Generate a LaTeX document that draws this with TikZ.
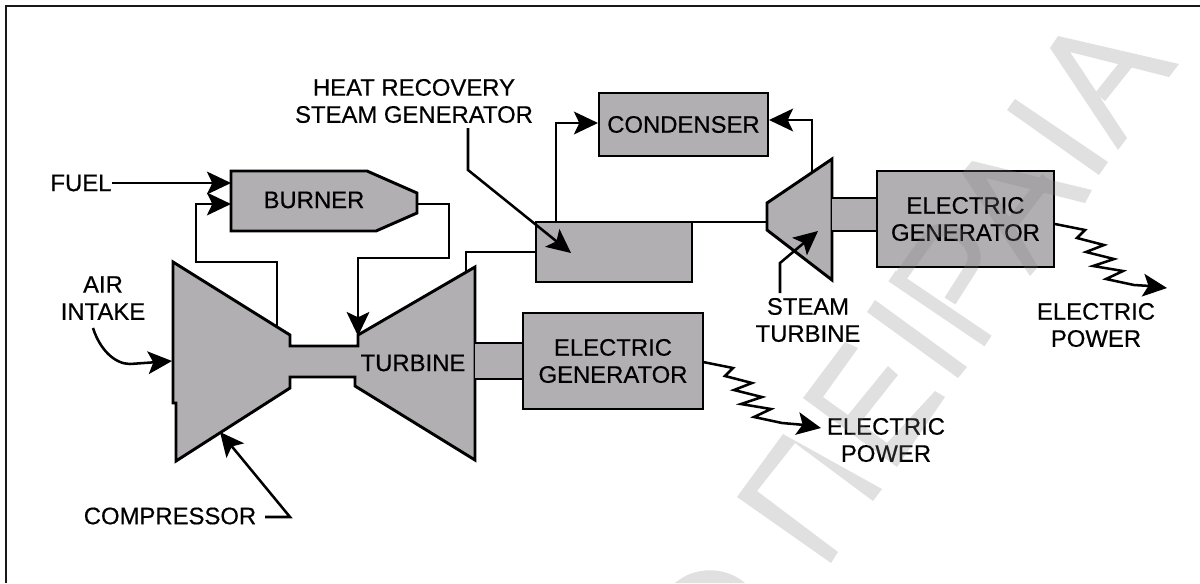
\documentclass[tikz,border=0pt]{standalone}
\usepackage{fontspec}
\setmainfont[RawFeature={embolden=0.5}]{Liberation Sans}
\usetikzlibrary{arrows.meta}
\definecolor{boxgray}{RGB}{177,175,178}
\tikzset{
  x=0.75pt,y=-0.75pt,
  ln/.style={line width=2.2pt,line join=miter},
  thin line/.style={line width=1.9pt},
  shapebox/.style={ln,draw=black,fill=boxgray},
  recbox/.style={shapebox,rectangle,inner sep=0pt,align=center,font=\fontsize{17.9}{20.3}\selectfont},
  lab/.style={inner sep=0pt,align=center,font=\fontsize{17.9}{20.3}\selectfont},
  tip/.style={-{Stealth[length=18pt,width=17pt,inset=4pt]}},
  mark stroke/.style={line width=9.6pt,draw=black!50},
}
\begin{document}
\begin{tikzpicture}
\useasboundingbox (0,0) rectangle (1200,583);
\fill[white] (0,0) rectangle (1200,583);
% frame
\coordinate (fa) at (6,583);
\coordinate (fb) at (6,6);
\coordinate (fc) at (1200,6);
\draw[line width=1.7pt,draw=black!90] (fa) -- (fb) -- (fc);

% gas turbine body
\draw[shapebox] (173,262) -- (290,335) -- (290,346) -- (358,346) -- (358,335) -- (475,267)
   -- (475,460) -- (355,386) -- (355,377) -- (290,377) -- (290,388) -- (176,461) -- (176,403) -- (173,403) -- cycle;
% burner body
\draw[shapebox] (231,171) -- (367,171) -- (417,193) -- (417,213) -- (376,231) -- (231,231) -- cycle;
% steam turbine body
\draw[shapebox] (832,159) -- (767,203) -- (767,230) -- (832,280) -- cycle;
% shafts
\fill[boxgray] (475,343) rectangle (523,379);
\draw[ln] (475,343) -- (523,343) (475,379) -- (523,379);
\fill[boxgray] (832,198) rectangle (878,231);
\draw[ln] (832,198) -- (878,198) (832,231) -- (878,231);

% boxes
\node[recbox,minimum width=135pt,minimum height=72pt] (gen1) at (613,361) {ELECTRIC\\GENERATOR};
\node[recbox,minimum width=132.75pt,minimum height=72pt] (gen2) at (965.5,219) {ELECTRIC\\GENERATOR};
\node[recbox,minimum width=126.75pt,minimum height=47.25pt] (cond) at (683.5,124.5) {CONDENSER};
\node[recbox,minimum width=117pt,minimum height=45pt] (hrsg) at (614,252) {};

% labels
\node[lab] (burner) at (314,200) {BURNER};
\node[lab] (turbine) at (413,363) {TURBINE};
\node[lab] (fuel) at (81,183) {FUEL};
\node[lab] (air) at (103,298) {AIR\\INTAKE};
\node[lab] (compressor) at (170,516) {COMPRESSOR};
\node[lab] (heat) at (414,101) {HEAT RECOVERY\\STEAM GENERATOR};
\node[lab] (steam) at (808,320) {STEAM\\TURBINE};
\node[lab] (power1) at (886,440) {ELECTRIC\\POWER};
\node[lab] (power2) at (1096,325) {ELECTRIC\\POWER};

% connector points
\coordinate (burnerA) at (231,183);
\coordinate (burnerB) at (231,204);
\coordinate (burnerOut) at (417,204);
\coordinate (compOut) at (277,327);
\coordinate (compB1) at (277,262);
\coordinate (compB2) at (196,262);
\coordinate (compB3) at (196,204);
\coordinate (outB1) at (449,204);
\coordinate (outB2) at (449,258);
\coordinate (outB3) at (358,258);
\coordinate (turbIn) at (358,336);
\coordinate (turbOut) at (466,272);
\coordinate (exB1) at (466,252);
\coordinate (hrsgTop) at (556,222);
\coordinate (hrsgB) at (556,123);
\coordinate (condL) at (598,123);
\coordinate (hrsgR) at (692,222);
\coordinate (stIn) at (767,222);
\coordinate (stOut) at (812,172);
\coordinate (stB) at (812,120);
\coordinate (condR) at (769,120);
% connectors
\draw[ln,tip] (fuel.east) -- (burnerA);
\draw[ln,tip] (compOut) -- (compB1) -- (compB2) -- (compB3) -- (burnerB);
\draw[ln,tip] (burnerOut) -- (outB1) -- (outB2) -- (outB3) -- (turbIn);
\draw[ln] (turbOut) -- (exB1) -- (hrsg.west |- exB1);
\draw[ln,tip] (hrsgTop) -- (hrsgB) -- (condL);
\draw[ln] (hrsgR) -- (stIn);
\draw[ln,tip] (stOut) -- (stB) -- (condR);

% leaders
\coordinate (airS) at (93,328);
\coordinate (airT) at (172,361);
\draw[thin line,tip] (airS) .. controls (100,350) and (115,364) .. (130,364) -- (airT);
\coordinate (cpS) at (265,517);
\coordinate (cpB) at (290,517);
\coordinate (cpT) at (220,432);
\draw[thin line,tip] (cpS) -- (cpB) -- (cpT);
\coordinate (htS) at (468,128);
\coordinate (htB) at (468,170);
\coordinate (htT) at (571,253);
\draw[thin line,tip] (htS) -- (htB) -- (htT);
\coordinate (stS) at (780,293);
\coordinate (stM) at (780,263);
\coordinate (stT) at (818,231);
\draw[thin line,tip] (stS) -- (stM) -- (stT);
% electric power
\coordinate (e1S) at (703,362);
\coordinate (e1T) at (821,428);
\draw[thin line,tip] (e1S) -- (733,368) -- (725,376) -- (752,383) -- (734,390) -- (762,397) -- (741,404) -- (771,409) -- (754,417) -- (782,423) -- (805,425) -- (e1T);
\coordinate (e2S) at (1055,224);
\coordinate (e2T) at (1167,288);
\draw[thin line,tip] (e2S) -- (1085,230) -- (1077,238) -- (1104,245) -- (1086,252) -- (1114,259) -- (1093,266) -- (1123,271) -- (1106,279) -- (1134,285) -- (1150,286) -- (e2T);

% faint letters laid across the sheet
\begin{scope}[transparency group,opacity=0.244]
  \fill[black!50] (737,497) -- (783,434) -- (882,489) -- (873,501) -- (795,443) -- (757,491) -- (838,552) -- (831,563) -- cycle;
  \fill[black!50] (803,398) -- (845,342) -- (858,348) -- (823,397) -- (848,415) -- (888,366) -- (898,375) -- (860,423) -- (887,443) -- (935,391) -- (945,397) -- (897,467) -- cycle;
  \fill[black!50] (867,312) -- (875,300) -- (967,367) -- (958,378) -- cycle;
  \draw[mark stroke] (892,276) -- (988,341);
  \draw[mark stroke] (896,283) -- (932,233) .. controls (950,222) and (985,245) .. (971,268) -- (950,301);
  \fill[black!50] (972,161) -- (1092,190) -- (1085,203) -- (986,178) -- (1038,267) -- (1030,276) -- (962,173) -- cycle;
  \draw[mark stroke] (1007,230) -- (1047,178);
  \fill[black!50] (1007,110) -- (1015,99) -- (1108,162) -- (1099,175) -- cycle;
  \fill[black!50] (1058,36) -- (1179,64) -- (1169,77) -- (1070,52) -- (1127,138) -- (1118,150) -- (1050,48) -- cycle;
  \draw[mark stroke] (1100,97) -- (1128,62);
  \fill[black!50] (675,583) .. controls (695,566) and (725,566) .. (745,583) -- cycle;
\end{scope}
\end{tikzpicture}
\end{document}
